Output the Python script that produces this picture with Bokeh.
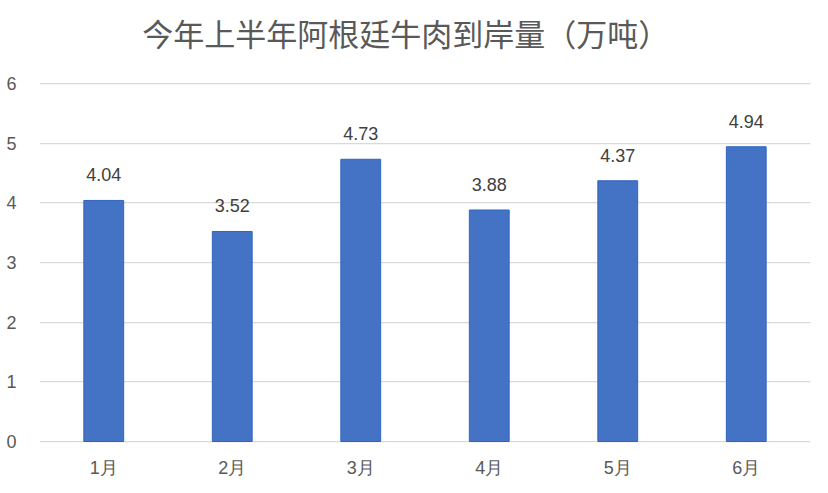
from bokeh.plotting import figure
from bokeh.models import ColumnDataSource, LabelSet, Label, FixedTicker, Range1d
from bokeh.core.properties import value
from bokeh.embed import file_html
from bokeh.resources import INLINE

title_text = "今年上半年阿根廷牛肉到岸量（万吨）"
months = ["1月", "2月", "3月", "4月", "5月", "6月"]
values = [4.04, 3.52, 4.73, 3.88, 4.37, 4.94]
labels = ["4.04", "3.52", "4.73", "3.88", "4.37", "4.94"]
y_ticks = [0, 1, 2, 3, 4, 5, 6]

NUM_FONT = "Liberation Sans"
CJK_FONT = "Noto Sans CJK SC"

src = ColumnDataSource(dict(x=months, top=values, lab=labels, zero=[0] * len(months)))

# frame covers the whole height so that title and category labels (drawn as
# annotations) are not clipped; 358 px correspond to 6 units
PX = 358 / 6.0
H = 477
p = figure(x_range=months, y_range=Range1d(-36 / PX, (H - 36) / PX), width=812, height=H,
           output_backend="svg", toolbar_location=None)
p.min_border_left = 39
p.min_border_right = 2
p.min_border_top = 0
p.min_border_bottom = 0
p.outline_line_color = None
p.xaxis.visible = False

p.vbar(x="x", top="top", bottom=0, width=0.31, source=src, fill_color="#4472C4",
       line_color="#2F65C0", line_width=1)

# data labels
p.add_layout(LabelSet(x="x", y="top", text="lab", source=src, text_align="center",
                      text_baseline="alphabetic", y_offset=19, text_font_size="18px",
                      text_font=value(NUM_FONT), text_color="#404040"))

# category labels
p.add_layout(LabelSet(x="x", y="zero", text="x", source=src, text_align="center",
                      text_baseline="middle", y_offset=-26, text_font_size="18px",
                      text_font=value(NUM_FONT), text_color="#595959"))

# title
p.add_layout(Label(x=2.85, y=(441 - 32) / PX, text=title_text, text_align="center",
                   text_baseline="middle", text_font_size="31px",
                   text_font=CJK_FONT, text_color="#595959"))

p.yaxis.ticker = FixedTicker(ticks=y_ticks)
p.yaxis.axis_line_color = None
p.yaxis.major_tick_line_color = None
p.yaxis.minor_tick_line_color = None
p.yaxis.major_label_standoff = 17
p.yaxis.major_label_text_font = NUM_FONT
p.yaxis.major_label_text_font_size = "18px"
p.yaxis.major_label_text_color = "#595959"

p.xgrid.grid_line_color = None
p.ygrid.ticker = FixedTicker(ticks=y_ticks)
p.ygrid.grid_line_color = "#D9D9D9"
p.ygrid.grid_line_width = 1.25
p.x_range.range_padding = 0.0

open("out.html", "w").write(file_html(p, INLINE))
